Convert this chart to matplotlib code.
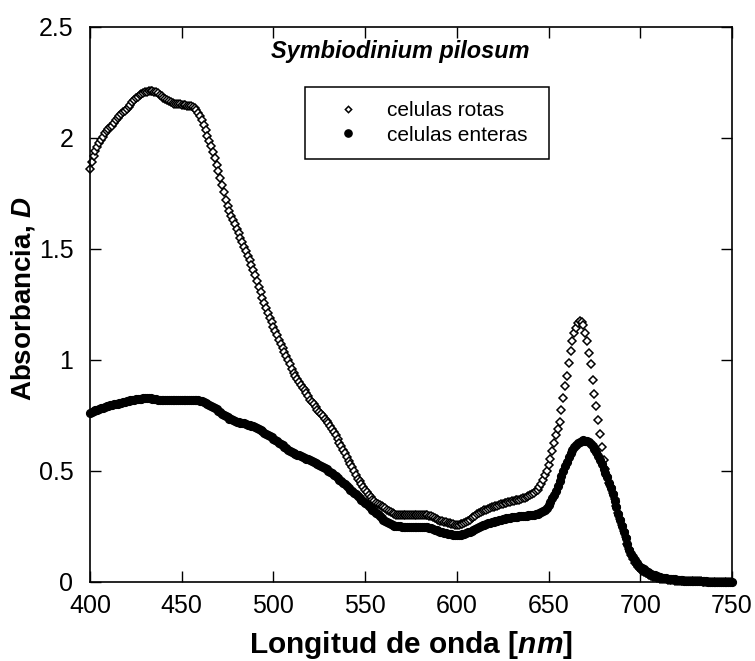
import numpy as np
import matplotlib
matplotlib.use("Agg")
import matplotlib.pyplot as plt
from matplotlib.lines import Line2D
from matplotlib.ticker import FuncFormatter

plt.rcParams['font.family'] = ['Liberation Sans', 'DejaVu Sans']
plt.rcParams['mathtext.fontset'] = 'custom'
plt.rcParams['mathtext.it'] = 'Liberation Sans:italic:bold'
plt.rcParams['mathtext.rm'] = 'Liberation Sans:bold'
plt.rcParams['mathtext.bf'] = 'Liberation Sans:bold'

# Wavelength grid, 1 nm steps
wavelength = np.arange(400, 751)

# Absorbance of broken cells (open diamonds)
celulas_rotas = [
    1.86, 1.89, 1.92, 1.94, 1.96, 1.975, 1.99, 2.005, 2.02, 2.03,
    2.04, 2.048, 2.055, 2.068, 2.08, 2.09, 2.10, 2.108, 2.115, 2.122,
    2.13, 2.14, 2.15, 2.16, 2.17, 2.178, 2.185, 2.193, 2.20, 2.203,
    2.205, 2.208, 2.21, 2.21, 2.21, 2.209, 2.207, 2.201, 2.195, 2.188,
    2.18, 2.175, 2.17, 2.165, 2.16, 2.157, 2.155, 2.153, 2.152, 2.151,
    2.15, 2.148, 2.147, 2.145, 2.143, 2.142, 2.14, 2.133, 2.125, 2.113,
    2.10, 2.08, 2.06, 2.035, 2.01, 1.988, 1.965, 1.938, 1.91, 1.88,
    1.85, 1.82, 1.79, 1.755, 1.72, 1.695, 1.67, 1.65, 1.63, 1.61,
    1.59, 1.57, 1.55, 1.53, 1.51, 1.49, 1.47, 1.448, 1.425, 1.403,
    1.38, 1.355, 1.33, 1.305, 1.28, 1.258, 1.235, 1.212, 1.19, 1.17,
    1.15, 1.13, 1.11, 1.09, 1.07, 1.052, 1.035, 1.018, 1.0, 0.98,
    0.96, 0.942, 0.925, 0.912, 0.90, 0.888, 0.875, 0.862, 0.85, 0.835,
    0.82, 0.81, 0.80, 0.788, 0.775, 0.765, 0.755, 0.745, 0.735, 0.725,
    0.715, 0.703, 0.69, 0.675, 0.66, 0.643, 0.625, 0.61, 0.595, 0.578,
    0.56, 0.545, 0.53, 0.515, 0.50, 0.482, 0.465, 0.452, 0.44, 0.428,
    0.415, 0.402, 0.39, 0.38, 0.37, 0.362, 0.355, 0.35, 0.345, 0.34,
    0.335, 0.33, 0.325, 0.32, 0.315, 0.31, 0.305, 0.302, 0.30, 0.30,
    0.30, 0.30, 0.30, 0.30, 0.30, 0.30, 0.30, 0.30, 0.30, 0.30,
    0.30, 0.30, 0.30, 0.30, 0.30, 0.298, 0.295, 0.29, 0.285, 0.281,
    0.278, 0.275, 0.272, 0.27, 0.267, 0.265, 0.263, 0.26, 0.258, 0.257,
    0.256, 0.257, 0.258, 0.261, 0.265, 0.27, 0.275, 0.28, 0.285, 0.292,
    0.298, 0.304, 0.31, 0.314, 0.318, 0.322, 0.325, 0.329, 0.332, 0.335,
    0.338, 0.341, 0.343, 0.346, 0.348, 0.351, 0.353, 0.355, 0.357, 0.36,
    0.362, 0.364, 0.366, 0.368, 0.37, 0.372, 0.375, 0.378, 0.382, 0.386,
    0.39, 0.395, 0.40, 0.407, 0.415, 0.427, 0.44, 0.46, 0.48, 0.50,
    0.525, 0.555, 0.59, 0.625, 0.66, 0.69, 0.72, 0.775, 0.83, 0.88,
    0.925, 0.985, 1.04, 1.085, 1.12, 1.145, 1.165, 1.175, 1.17, 1.155,
    1.12, 1.085, 1.03, 0.98, 0.91, 0.845, 0.79, 0.73, 0.665, 0.605,
    0.55, 0.51, 0.475, 0.445, 0.425, 0.40, 0.372, 0.342, 0.31, 0.282,
    0.255, 0.228, 0.20, 0.172, 0.148, 0.12, 0.10, 0.085, 0.075, 0.066,
    0.058, 0.05, 0.044, 0.038, 0.033, 0.029, 0.025, 0.022, 0.019, 0.017,
    0.015, 0.013, 0.012, 0.011, 0.01, 0.009, 0.008, 0.007, 0.006, 0.005,
    0.005, 0.004, 0.004, 0.003, 0.003, 0.002, 0.002, 0.002, 0.001, 0.001,
    0.001, 0.001, 0.001, 0.001, 0.0, 0.0, 0.0, 0.0, 0.0, 0.0,
    0.0, 0.0, 0.0, 0.0, 0.0, 0.0, 0.0, 0.0, 0.0, 0.0, 0.0,
]

# Absorbance of whole cells (filled circles)
celulas_enteras = [
    0.76, 0.764, 0.768, 0.772, 0.775, 0.779, 0.782, 0.785, 0.788, 0.791,
    0.793, 0.795, 0.797, 0.799, 0.801, 0.803, 0.805, 0.807, 0.809, 0.811,
    0.813, 0.815, 0.817, 0.819, 0.82, 0.822, 0.823, 0.824, 0.825, 0.826,
    0.826, 0.826, 0.826, 0.826, 0.825, 0.824, 0.822, 0.821, 0.82, 0.819,
    0.818, 0.818, 0.818, 0.818, 0.818, 0.818, 0.818, 0.818, 0.818, 0.818,
    0.818, 0.818, 0.818, 0.818, 0.818, 0.818, 0.818, 0.818, 0.818, 0.817,
    0.815, 0.813, 0.81, 0.807, 0.803, 0.798, 0.793, 0.788, 0.782, 0.776,
    0.77, 0.763, 0.757, 0.751, 0.745, 0.74, 0.735, 0.731, 0.727, 0.723,
    0.72, 0.718, 0.716, 0.714, 0.713, 0.711, 0.708, 0.706, 0.703, 0.70,
    0.697, 0.693, 0.688, 0.683, 0.677, 0.671, 0.665, 0.66, 0.655, 0.65,
    0.645, 0.638, 0.632, 0.626, 0.62, 0.614, 0.608, 0.601, 0.595, 0.59,
    0.585, 0.581, 0.577, 0.573, 0.57, 0.567, 0.563, 0.559, 0.555, 0.552,
    0.548, 0.544, 0.54, 0.536, 0.532, 0.528, 0.523, 0.518, 0.512, 0.506,
    0.50, 0.494, 0.488, 0.482, 0.475, 0.468, 0.46, 0.453, 0.445, 0.438,
    0.43, 0.423, 0.415, 0.408, 0.40, 0.393, 0.385, 0.378, 0.37, 0.363,
    0.355, 0.348, 0.34, 0.333, 0.325, 0.318, 0.31, 0.303, 0.295, 0.288,
    0.28, 0.275, 0.27, 0.265, 0.26, 0.256, 0.253, 0.251, 0.25, 0.249,
    0.248, 0.248, 0.248, 0.248, 0.248, 0.248, 0.248, 0.248, 0.248, 0.248,
    0.248, 0.248, 0.248, 0.247, 0.245, 0.243, 0.24, 0.238, 0.235, 0.231,
    0.228, 0.225, 0.222, 0.22, 0.218, 0.216, 0.215, 0.213, 0.212, 0.211,
    0.21, 0.21, 0.211, 0.213, 0.215, 0.218, 0.222, 0.226, 0.23, 0.234,
    0.238, 0.242, 0.246, 0.25, 0.254, 0.257, 0.26, 0.263, 0.265, 0.268,
    0.27, 0.273, 0.275, 0.278, 0.28, 0.282, 0.284, 0.286, 0.287, 0.289,
    0.29, 0.291, 0.292, 0.293, 0.294, 0.295, 0.296, 0.297, 0.298, 0.299,
    0.30, 0.301, 0.302, 0.303, 0.305, 0.308, 0.313, 0.318, 0.325, 0.334,
    0.345, 0.358, 0.375, 0.392, 0.41, 0.432, 0.455, 0.478, 0.50, 0.52,
    0.54, 0.56, 0.58, 0.595, 0.607, 0.617, 0.625, 0.631, 0.636, 0.638,
    0.636, 0.633, 0.628, 0.621, 0.612, 0.60, 0.585, 0.568, 0.55, 0.53,
    0.51, 0.49, 0.47, 0.445, 0.42, 0.393, 0.365, 0.335, 0.305, 0.277,
    0.25, 0.222, 0.195, 0.17, 0.145, 0.127, 0.11, 0.097, 0.085, 0.076,
    0.068, 0.061, 0.055, 0.05, 0.045, 0.04, 0.035, 0.031, 0.028, 0.025,
    0.022, 0.02, 0.018, 0.016, 0.015, 0.014, 0.013, 0.012, 0.011, 0.01,
    0.009, 0.008, 0.007, 0.006, 0.005, 0.005, 0.004, 0.004, 0.003, 0.003,
    0.002, 0.002, 0.002, 0.001, 0.001, 0.001, 0.001, 0.0, 0.0, 0.0,
    0.0, 0.0, 0.0, 0.0, 0.0, 0.0, 0.0, 0.0, 0.0, 0.0, 0.0,
]

series_labels = ["celulas rotas", "celulas enteras"]
title_text = "Symbiodinium pilosum"
x_ticks = [400, 450, 500, 550, 600, 650, 700, 750]
y_ticks = [0, 0.5, 1, 1.5, 2, 2.5]

fig = plt.figure(figsize=(7.55, 6.61), dpi=100)
ax = fig.add_axes([0.1192, 0.12, 0.8503, 0.8392])

ax.plot(wavelength, celulas_rotas, linestyle='none', marker='D', ms=3.6,
        mfc='white', mec='black', mew=1.1, clip_on=False, zorder=2)
ax.plot(wavelength, celulas_enteras, linestyle='none', marker='o', ms=5.6,
        color='black', clip_on=False, zorder=3)

ax.set_xlim(400, 750)
ax.set_ylim(0, 2.5)
ax.set_xticks(x_ticks)
ax.set_yticks(y_ticks)
ax.yaxis.set_major_formatter(FuncFormatter(lambda v, p: f"{v:g}"))

for s in ax.spines.values():
    s.set_linewidth(1.2)
ax.tick_params(direction='in', length=8, width=1.0, top=True, right=True,
               labelsize=18, colors='black')
ax.tick_params(axis='x', pad=9)
ax.tick_params(axis='y', pad=12)

ax.set_xlabel(r"Longitud de onda [$\mathit{nm}$]", fontsize=21.5,
              fontweight='bold')
ax.set_ylabel(r"Absorbancia, $\mathit{D}$", fontsize=20, fontweight='bold')
ax.xaxis.set_label_coords(0.5, -0.086)
ax.yaxis.set_label_coords(-0.082, 0.511)

ax.text(569, 2.39, title_text, ha='center', va='center', fontsize=16.9,
        fontweight='bold', fontstyle='italic')

handles = [
    Line2D([], [], linestyle='none', marker='D', ms=3.2, mfc='white',
           mec='black', mew=1.1),
    Line2D([], [], linestyle='none', marker='o', ms=5.2, color='black'),
]
leg = ax.legend(handles, series_labels, loc='upper left',
                bbox_to_anchor=(0.335, 0.764, 0.38, 0.128), mode='expand',
                borderaxespad=0, fontsize=15, fancybox=False,
                edgecolor='black', framealpha=1, borderpad=0.7,
                handlelength=2.73, handletextpad=0.5, labelspacing=0.25)
leg.get_frame().set_linewidth(1.1)

fig.savefig("out.png", dpi=100)
